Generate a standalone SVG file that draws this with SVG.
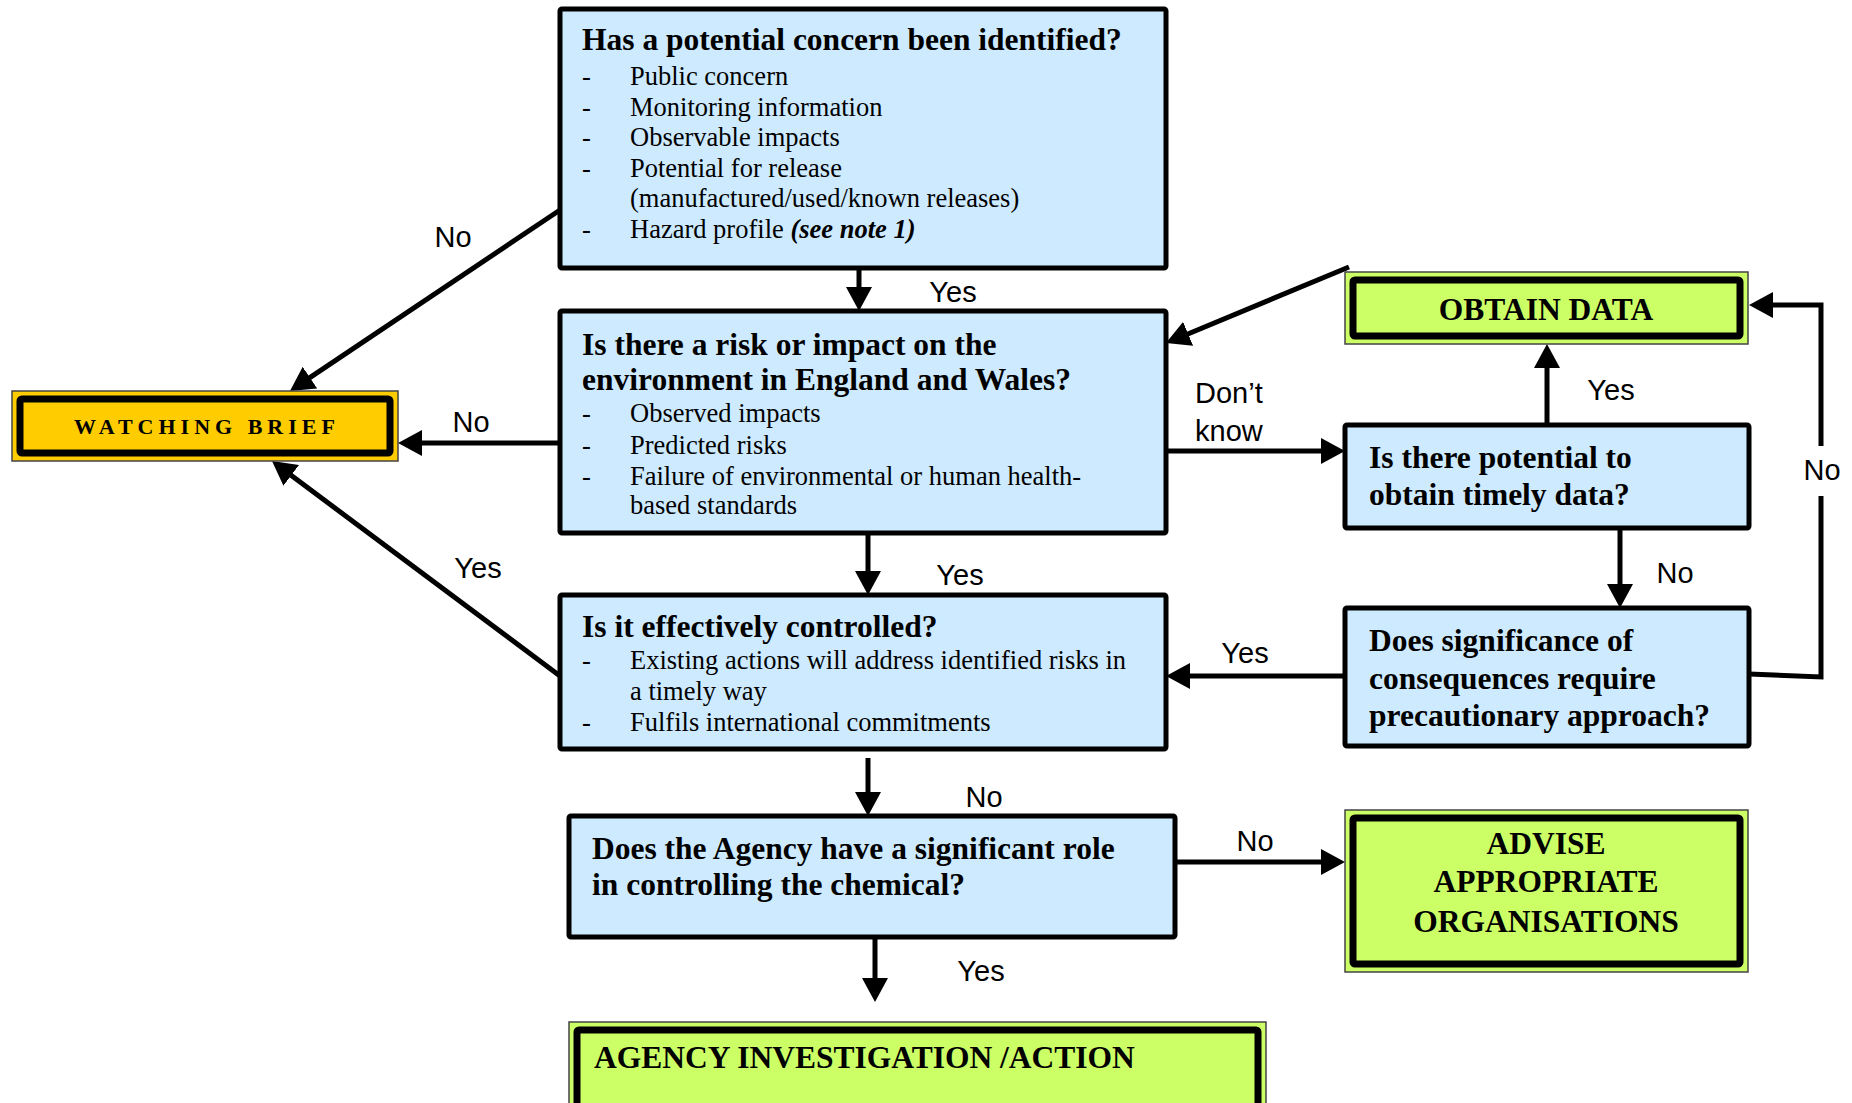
<svg xmlns="http://www.w3.org/2000/svg" width="1852" height="1103" viewBox="0 0 1852 1103">
<defs>
<marker id="ah" markerUnits="userSpaceOnUse" markerWidth="24" markerHeight="26" refX="14" refY="13" orient="auto"><path d="M0,0 L24,13 L0,26 z" fill="#000"/></marker>
<style>
.q{fill:#cdeaff;stroke:#000;stroke-width:5}
.t{font-family:"Liberation Serif","Times New Roman",serif;font-weight:bold;font-size:31.5px;fill:#000}
.b{font-family:"Liberation Serif","Times New Roman",serif;font-size:26.5px;fill:#000}
.l{font-family:"Liberation Sans",Arial,sans-serif;font-size:29px;fill:#000}
.m{text-anchor:middle}
.c{stroke:#000;stroke-width:5;fill:none;marker-end:url(#ah)}
.n{stroke:#000;stroke-width:5;fill:none}
.og{fill:#ccff66;stroke:#444;stroke-width:1.5}
.oy{fill:#ffcc00;stroke:#444;stroke-width:1.5}
.i{fill:none;stroke:#000;stroke-width:7}
</style>
</defs>
<rect width="1852" height="1103" fill="#fff"/>

<g id="connectors">
<path class="c" d="M859,268 V301"/>
<path class="c" d="M868,533 V585"/>
<path class="c" d="M868,758 V806"/>
<path class="c" d="M875,937 V992"/>
<path class="c" d="M560,443 H408"/>
<path class="c" d="M560,210 L298.3,385.4"/>
<path class="c" d="M560,676 L280,467"/>
<path class="c" d="M1175,862 H1335"/>
<path class="c" d="M1166,451 H1335"/>
<path class="c" d="M1547,425 V354"/>
<path class="c" d="M1620,528 V598"/>
<path class="c" d="M1345,676 H1176"/>
<path class="n" d="M1749,674 L1821,677 V496"/>
<path class="c" d="M1821,446 V305 H1759"/>
<path class="c" d="M1349,267 L1175.2,339.2"/>
<g class="l">
<text class="m" x="953" y="302">Yes</text>
<text class="m" x="453" y="247">No</text>
<text class="m" x="471" y="432">No</text>
<text class="m" x="478" y="578">Yes</text>
<text class="m" x="960" y="585">Yes</text>
<text class="m" x="984" y="807">No</text>
<text class="m" x="981" y="981">Yes</text>
<text class="m" x="1255" y="851">No</text>
<text x="1195" y="403">Don’t</text>
<text x="1195" y="441">know</text>
<text class="m" x="1611" y="400">Yes</text>
<text class="m" x="1675" y="583">No</text>
<text class="m" x="1245" y="663">Yes</text>
<text class="m" x="1822" y="480">No</text>
</g>
</g>

<g id="concern">
<rect class="q" x="560" y="9" width="606" height="259" rx="2"/>
<text class="t" x="582" y="50">Has a potential concern been identified?</text>
<g class="b">
<text x="582" y="85">-</text><text x="630" y="85">Public concern</text>
<text x="582" y="115.6">-</text><text x="630" y="115.6">Monitoring information</text>
<text x="582" y="146">-</text><text x="630" y="146">Observable impacts</text>
<text x="582" y="177">-</text><text x="630" y="177">Potential for release</text>
<text x="630" y="207">(manufactured/used/known releases)</text>
<text x="582" y="238">-</text><text x="630" y="238">Hazard profile <tspan font-style="italic" font-weight="bold">(see note 1)</tspan></text>
</g>
</g>

<g id="risk">
<rect class="q" x="560" y="311" width="606" height="222" rx="2"/>
<text class="t" x="582" y="355">Is there a risk or impact on the</text>
<text class="t" x="582" y="390">environment in England and Wales?</text>
<g class="b">
<text x="582" y="422">-</text><text x="630" y="422">Observed impacts</text>
<text x="582" y="454">-</text><text x="630" y="454">Predicted risks</text>
<text x="582" y="485">-</text><text x="630" y="485">Failure of environmental or human health-</text>
<text x="630" y="514">based standards</text>
</g>
</g>

<g id="controlled">
<rect class="q" x="560" y="595" width="606" height="154" rx="2"/>
<text class="t" x="582" y="637">Is it effectively controlled?</text>
<g class="b">
<text x="582" y="669">-</text><text x="630" y="669">Existing actions will address identified risks in</text>
<text x="630" y="700">a timely way</text>
<text x="582" y="731">-</text><text x="630" y="731">Fulfils international commitments</text>
</g>
</g>

<g id="agency-role">
<rect class="q" x="569" y="816" width="606" height="121" rx="2"/>
<text class="t" x="592" y="859">Does the Agency have a significant role</text>
<text class="t" x="592" y="895">in controlling the chemical?</text>
</g>

<g id="agency-action">
<rect class="og" x="569" y="1022" width="697" height="100"/>
<rect class="i" x="577" y="1030" width="681" height="100" rx="2"/>
<text class="t" x="594" y="1068">AGENCY INVESTIGATION /ACTION</text>
</g>

<g id="watching-brief">
<rect class="oy" x="12" y="391" width="386" height="70"/>
<rect class="i" x="20" y="399" width="370" height="54" rx="2"/>
<text class="t m" x="207" y="434" style="font-size:22px;letter-spacing:5px">WATCHING BRIEF</text>
</g>

<g id="obtain-data">
<rect class="og" x="1345" y="272" width="403" height="72"/>
<rect class="i" x="1353" y="280" width="387" height="56" rx="2"/>
<text class="t m" x="1546" y="320">OBTAIN DATA</text>
</g>

<g id="advise">
<rect class="og" x="1345" y="810" width="403" height="162"/>
<rect class="i" x="1353" y="818" width="387" height="146" rx="2"/>
<text class="t m" x="1546" y="854">ADVISE</text>
<text class="t m" x="1546" y="892">APPROPRIATE</text>
<text class="t m" x="1546" y="932">ORGANISATIONS</text>
</g>

<g id="timely-data">
<rect class="q" x="1345" y="425" width="404" height="103" rx="2"/>
<text class="t" x="1369" y="468">Is there potential to</text>
<text class="t" x="1369" y="505">obtain timely data?</text>
</g>

<g id="precaution">
<rect class="q" x="1345" y="608" width="404" height="138" rx="2"/>
<text class="t" x="1369" y="651">Does significance of</text>
<text class="t" x="1369" y="689">consequences require</text>
<text class="t" x="1369" y="726">precautionary approach?</text>
</g>
</svg>
